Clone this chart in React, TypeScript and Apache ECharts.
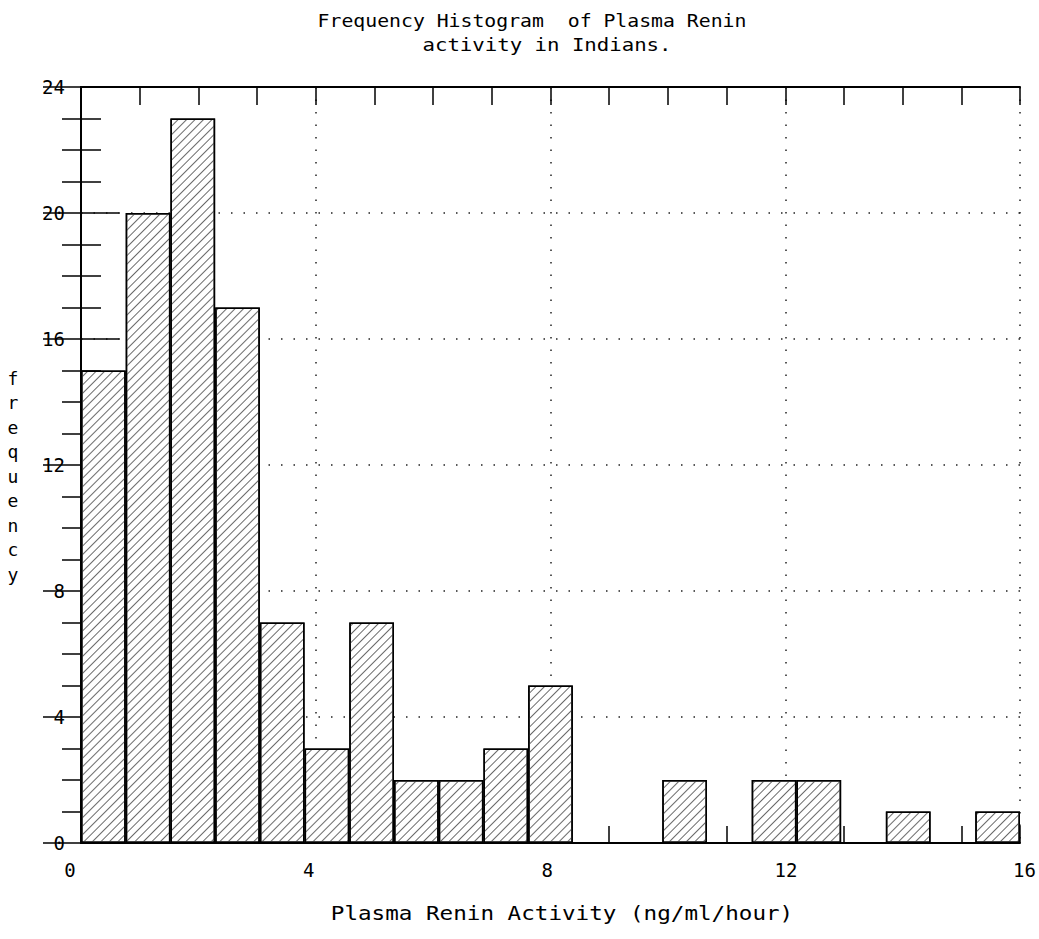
import React, { useEffect, useRef } from 'react';
import * as echarts from 'echarts';

const titleLines = ['Frequency Histogram  of Plasma Renin', 'activity in Indians.'];
const xAxisName = 'Plasma Renin Activity (ng/ml/hour)';
const yAxisName = 'frequency';
const xMin = 0;
const xMax = 16;
const yMin = 0;
const yMax = 24;
const xTickStep = 4;
const yTickStep = 4;
const binCount = 21;
const binLabels = Array.from({ length: binCount }, (_, i) =>
  `${((i * xMax) / binCount).toFixed(2)}-${(((i + 1) * xMax) / binCount).toFixed(2)}`
);
const frequencies = [15, 20, 23, 17, 7, 3, 7, 2, 2, 3, 5, 0, 0, 2, 0, 2, 2, 0, 1, 0, 1];

const MONO = '"DejaVu Sans Mono", "Liberation Mono", monospace';

export default function App() {
  const ref = useRef<HTMLDivElement>(null);
  useEffect(() => {
    if (!ref.current) return;
    const chart = echarts.init(ref.current, undefined, { renderer: 'svg' });
    const dotted = { color: '#222', width: 1.5, type: [1.5, 11] as any };
    const frameLine = { show: true, lineStyle: { color: '#000', width: 2 } };
    const tickStyle = { color: '#000', width: 1.5 };
    const option: any = {
      animation: false,
      backgroundColor: '#fff',
      grid: [
        { left: 81, right: 19, top: 87, bottom: 96 },
        { left: 70, right: 9, top: 87, bottom: 96 },
      ],
      xAxis: [
        {
          type: 'category',
          gridIndex: 0,
          data: binLabels,
          position: 'bottom',
          show: false,
          boundaryGap: true,
        },
        {
          type: 'value',
          gridIndex: 0,
          position: 'bottom',
          min: xMin,
          max: xMax,
          interval: xTickStep,
          axisLine: frameLine,
          axisTick: { show: true, inside: true, length: 17, lineStyle: tickStyle },
          minorTick: { show: true, splitNumber: 4, length: 17, lineStyle: tickStyle },
          axisLabel: { show: false },
          splitLine: { show: true, lineStyle: dotted },
        },
        {
          type: 'value',
          gridIndex: 0,
          position: 'top',
          min: xMin,
          max: xMax,
          interval: xTickStep,
          axisLine: frameLine,
          axisTick: { show: true, inside: true, length: 18, lineStyle: tickStyle },
          minorTick: { show: true, splitNumber: 4, length: 18, lineStyle: tickStyle },
          axisLabel: { show: false },
          splitLine: { show: false },
        },
        {
          type: 'value',
          gridIndex: 1,
          position: 'bottom',
          min: xMin,
          max: xMax,
          interval: xTickStep,
          axisLine: { show: false },
          axisTick: { show: false },
          splitLine: { show: false },
          axisLabel: { show: true, fontSize: 19, fontFamily: MONO, color: '#000', margin: 17 },
        },
      ],
      yAxis: [
        {
          type: 'value',
          gridIndex: 0,
          position: 'left',
          min: yMin,
          max: yMax,
          interval: yTickStep,
          axisLine: frameLine,
          axisTick: { show: true, inside: true, length: 38, lineStyle: tickStyle },
          minorTick: { show: true, splitNumber: 4, length: 20, lineStyle: tickStyle },
          axisLabel: { show: true, fontSize: 19, fontFamily: MONO, color: '#000', margin: 16 },
          splitLine: { show: true, lineStyle: dotted },
        },
        {
          type: 'value',
          gridIndex: 0,
          position: 'right',
          min: yMin,
          max: yMax,
          interval: yTickStep,
          axisLine: frameLine,
          axisTick: { show: true, inside: true, length: 38, lineStyle: tickStyle },
          minorTick: { show: true, splitNumber: 4, length: 19, lineStyle: tickStyle },
          axisLabel: { show: false },
          splitLine: { show: false },
        },
        {
          type: 'value',
          gridIndex: 1,
          show: false,
          min: yMin,
          max: yMax,
        },
      ],
      series: [
        {
          type: 'bar',
          xAxisIndex: 0,
          yAxisIndex: 0,
          data: frequencies,
          barWidth: '100%',
          barCategoryGap: '0%',
          itemStyle: {
            color: '#fff',
            borderColor: '#000',
            borderWidth: 1.5,
            decal: {
              symbol: 'rect',
              symbolSize: 1,
              color: '#6a6a6a',
              dashArrayX: [1, 0],
              dashArrayY: [1, 5],
              rotation: -Math.PI / 4,
            },
          },
        },
      ],
      graphic: [
        {
          type: 'text',
          x: 532,
          y: 20,
          scaleX: 1.1,
          style: {
            text: titleLines[0],
            fontSize: 18,
            fontFamily: MONO,
            fill: '#000',
            align: 'center',
            verticalAlign: 'middle',
            textAlign: 'center',
            textVerticalAlign: 'middle',
          },
        },
        {
          type: 'text',
          x: 547,
          y: 45,
          scaleX: 1.15,
          style: {
            text: titleLines[1],
            fontSize: 18,
            fontFamily: MONO,
            fill: '#000',
            align: 'center',
            verticalAlign: 'middle',
            textAlign: 'center',
            textVerticalAlign: 'middle',
          },
        },
        {
          type: 'text',
          x: 562,
          y: 913,
          scaleX: 1.13,
          style: {
            text: xAxisName,
            fontSize: 20,
            fontFamily: MONO,
            fill: '#000',
            align: 'center',
            verticalAlign: 'middle',
            textAlign: 'center',
            textVerticalAlign: 'middle',
          },
        },
        {
          type: 'text',
          x: 13,
          y: 476,
          style: {
            text: yAxisName.split('').join('\n'),
            fontSize: 18,
            lineHeight: 24.5,
            fontFamily: MONO,
            fill: '#000',
            align: 'center',
            verticalAlign: 'middle',
            textAlign: 'center',
            textVerticalAlign: 'middle',
          },
        },
      ],
    };
    chart.setOption(option);
    return () => chart.dispose();
  }, []);
  return (
    <div
      ref={ref}
      style={{ position: 'fixed', left: 0, top: 0, width: 1039, height: 939, background: '#fff' }}
    />
  );
}
